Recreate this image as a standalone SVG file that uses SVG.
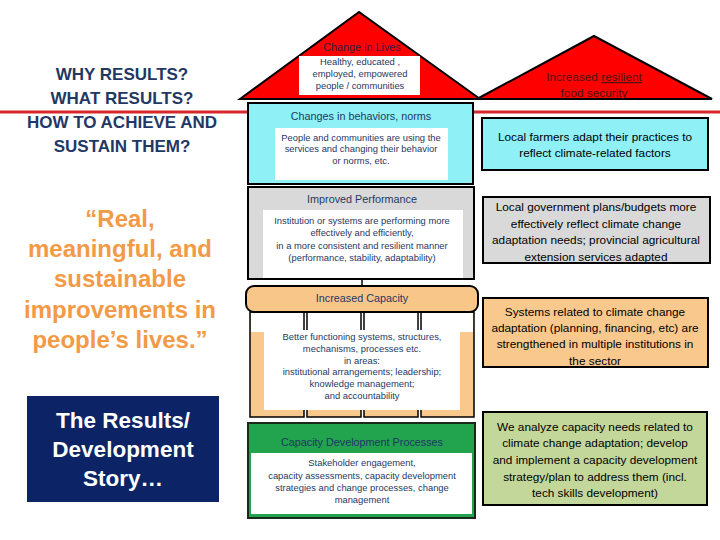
<svg xmlns="http://www.w3.org/2000/svg" width="720" height="540" viewBox="0 0 720 540">
<style>
.bx{stroke:#000;stroke-width:2}
.t{font-family:"Liberation Sans",Arial,sans-serif;text-anchor:middle;fill:#1f3864}
.sm{font-size:9.4px}
.hd{font-size:10.8px}
.rt{font-family:"Liberation Sans",Arial,sans-serif;text-anchor:middle;fill:#000;font-size:11.8px}
.lh{font-family:"Liberation Sans",Arial,sans-serif;font-weight:bold;text-anchor:middle;fill:#1f3864;font-size:17px}
.q{font-family:"Liberation Sans",Arial,sans-serif;font-weight:bold;text-anchor:middle;fill:#f29a45;font-size:24px}
.nv{font-family:"Liberation Sans",Arial,sans-serif;font-weight:bold;text-anchor:middle;fill:#fff;font-size:22.5px}
</style>
<rect width="720" height="540" fill="#fff"/>
<g id="connectors">
<line x1="0" y1="112" x2="720" y2="112" stroke="#d9262b" stroke-width="3"/>
<line x1="362" y1="278" x2="362" y2="287" stroke="#000" stroke-width="1.5"/>
</g>
<g id="left-heading">
<text class="lh" x="122" y="80">WHY RESULTS?</text>
<text class="lh" x="122" y="104">WHAT RESULTS?</text>
<text class="lh" x="122" y="128">HOW TO ACHIEVE AND</text>
<text class="lh" x="122" y="152">SUSTAIN THEM?</text>
</g>
<g id="quote">
<text class="q" x="120" y="227">“Real,</text>
<text class="q" x="120" y="257">meaningful, and</text>
<text class="q" x="120" y="287">sustainable</text>
<text class="q" x="120" y="318">improvements in</text>
<text class="q" x="120" y="348">people’s lives.”</text>
</g>
<g id="story">
<rect x="27" y="396" width="192" height="106" fill="#0c2466"/>
<text class="nv" x="123" y="428">The Results/</text>
<text class="nv" x="123" y="457">Development</text>
<text class="nv" x="123" y="486">Story…</text>
</g>
<g id="change-in-lives">
<polygon points="359,12 240,99 480,99" fill="#ff0000" stroke="#000" stroke-width="2"/>
<rect x="299" y="56" width="121" height="39" fill="#fff"/>
<text class="t hd" x="362" y="51" style="fill:#3a1a4a">Change in Lives</text>
<text class="t sm" x="360" y="65">Healthy, educated ,</text>
<text class="t sm" x="360" y="77">employed, empowered</text>
<text class="t sm" x="360" y="89">people / communities</text>
</g>
<g id="behaviors">
<rect class="bx" x="248" y="103" width="225" height="81" fill="#8ff0f6"/>
<rect x="275" y="128" width="173" height="52" fill="#fff"/>
<text class="t hd" x="361" y="120">Changes in behaviors, norms</text>
<text class="t sm" x="361" y="141">People and communities are using the</text>
<text class="t sm" x="361" y="152">services and changing their behavior</text>
<text class="t sm" x="361" y="164">or norms, etc.</text>
</g>
<g id="performance">
<rect class="bx" x="248" y="187" width="226" height="92" fill="#d9d9d9"/>
<rect x="263" y="210" width="200" height="68" fill="#fff"/>
<text class="t hd" x="362" y="203">Improved Performance</text>
<text class="t sm" x="362" y="224">Institution or systems are performing more</text>
<text class="t sm" x="362" y="236">effectively and efficiently,</text>
<text class="t sm" x="362" y="249">in a more consistent and resilient manner</text>
<text class="t sm" x="362" y="261">(performance, stability, adaptability)</text>
</g>
<g id="capacity">
<rect x="250" y="312" width="54" height="105" fill="#f9c88c" stroke="#000" stroke-width="1.5"/>
<rect x="307" y="312" width="54" height="105" fill="#f9c88c" stroke="#000" stroke-width="1.5"/>
<rect x="364" y="312" width="54" height="105" fill="#f9c88c" stroke="#000" stroke-width="1.5"/>
<rect x="421" y="312" width="53" height="105" fill="#f9c88c" stroke="#000" stroke-width="1.5"/>
<rect x="251" y="313" width="222" height="19" fill="#fff"/>
<line x1="304" y1="312" x2="304" y2="332" stroke="#000" stroke-width="1.5"/>
<line x1="307" y1="312" x2="307" y2="332" stroke="#000" stroke-width="1.5"/>
<line x1="361" y1="312" x2="361" y2="332" stroke="#000" stroke-width="1.5"/>
<line x1="364" y1="312" x2="364" y2="332" stroke="#000" stroke-width="1.5"/>
<line x1="418" y1="312" x2="418" y2="332" stroke="#000" stroke-width="1.5"/>
<line x1="421" y1="312" x2="421" y2="332" stroke="#000" stroke-width="1.5"/>
<rect x="264" y="330" width="196" height="80" fill="#fff"/>
<rect class="bx" x="246" y="286" width="232" height="26" rx="8" fill="#f9c68a"/>
<text class="t hd" x="362" y="302">Increased Capacity</text>
<text class="t sm" x="362" y="340">Better functioning systems,  structures,</text>
<text class="t sm" x="362" y="352">mechanisms, processes etc.</text>
<text class="t sm" x="362" y="364">in  areas:</text>
<text class="t sm" x="362" y="375">institutional arrangements; leadership;</text>
<text class="t sm" x="362" y="387">knowledge management;</text>
<text class="t sm" x="362" y="399">and accountability</text>
</g>
<g id="cd-processes">
<rect x="248" y="423" width="227" height="95" fill="#22a34e" stroke="#1a2a1a" stroke-width="2"/>
<rect x="251" y="453" width="221" height="61" fill="#fff"/>
<text class="t hd" x="362" y="446">Capacity Development Processes</text>
<text class="t sm" x="362" y="466">Stakeholder engagement,</text>
<text class="t sm" x="362" y="479">capacity assessments, capacity development</text>
<text class="t sm" x="362" y="491">strategies and change  processes, change</text>
<text class="t sm" x="362" y="503">management</text>
</g>
<g id="food-security">
<polygon points="594,36 477,99 712,99" fill="#ff0000" stroke="#000" stroke-width="2"/>
<text class="rt" x="594" y="81" style="fill:#4a1414">Increased  <tspan text-decoration="underline">resilient</tspan></text>
<text class="rt" x="594" y="97" style="fill:#4a1414">food security</text>
</g>
<g id="farmers">
<rect class="bx" x="482" y="118" width="226" height="52" fill="#8ff0f6"/>
<text class="rt" x="595" y="141">Local farmers adapt their practices to</text>
<text class="rt" x="595" y="157">reflect climate-related factors</text>
</g>
<g id="government">
<rect class="bx" x="483" y="197" width="227" height="66" fill="#d9d9d9"/>
<text class="rt" x="596" y="211">Local government plans/budgets more</text>
<text class="rt" x="596" y="228">effectively reflect climate change</text>
<text class="rt" x="596" y="244">adaptation needs; provincial agricultural</text>
<text class="rt" x="596" y="261">extension services adapted</text>
</g>
<g id="systems">
<rect class="bx" x="483" y="298" width="225" height="69" fill="#f9c88c"/>
<text class="rt" x="595" y="316">Systems related to climate change</text>
<text class="rt" x="595" y="332">adaptation (planning, financing, etc) are</text>
<text class="rt" x="595" y="348">strengthened in multiple institutions in</text>
<text class="rt" x="595" y="365">the sector</text>
</g>
<g id="analyze">
<rect class="bx" x="483" y="412" width="224" height="93" fill="#c4d79b"/>
<text class="rt" x="595" y="431">We analyze capacity needs related to</text>
<text class="rt" x="595" y="447">climate change adaptation; develop</text>
<text class="rt" x="595" y="464">and implement a capacity development</text>
<text class="rt" x="595" y="481">strategy/plan to address them (incl.</text>
<text class="rt" x="595" y="497">tech skills development)</text>
</g>
</svg>
